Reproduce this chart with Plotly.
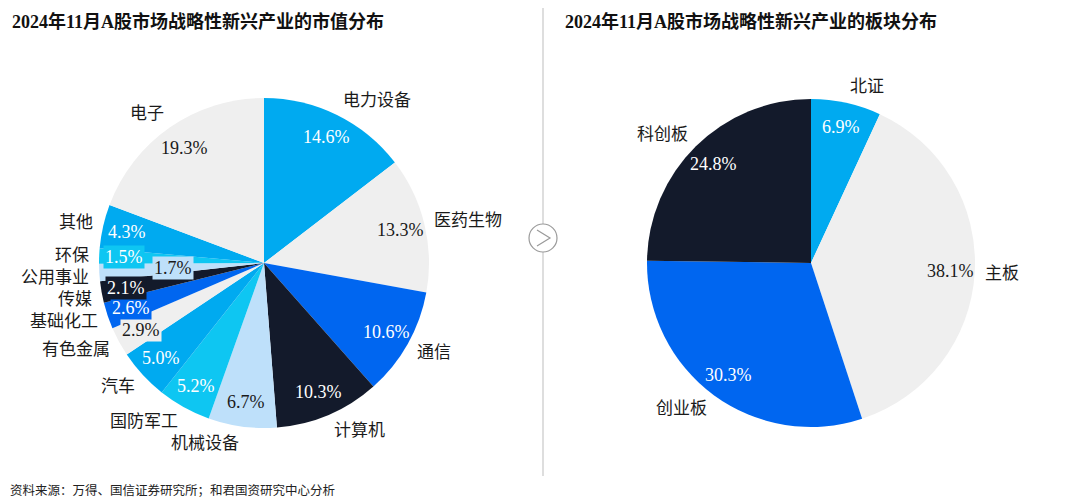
import math
import plotly.graph_objects as go

# ---------------- data ----------------
industries = ["电力设备", "医药生物", "通信", "计算机", "机械设备", "国防军工", "汽车",
              "有色金属", "基础化工", "传媒", "公用事业", "环保", "其他", "电子"]
industry_share = [14.6, 13.3, 10.6, 10.3, 6.7, 5.2, 5.0, 2.9, 2.6, 2.1, 1.7, 1.5, 4.3, 19.3]

boards = ["北证", "主板", "创业板", "科创板"]
board_share = [6.9, 38.1, 30.3, 24.8]

title_left = "2024年11月A股市场战略性新兴产业的市值分布"
title_right = "2024年11月A股市场战略性新兴产业的板块分布"
source_note = "资料来源：万得、国信证券研究所；和君国资研究中心分析"

# ---------------- style ----------------
W, H = 1080, 504
OFF = 8  # page body margin
PALETTE = ["#00AAF0", "#EFEFEF", "#0066F0", "#131A2B", "#BEE0FA", "#0EC6F2"]
DARK_ON = {"#EFEFEF", "#BEE0FA"}
TEXT_DARK = "#1A1A1A"
NUM_FONT = "Liberation Serif, Times New Roman, serif"
CJK_FONT = "Liberation Serif, Noto Sans CJK SC, serif"
INNER_LABELS = {"公用事业"}
SMALL_BOX = 3.0
LABEL_GAP_X = 8      # px between pie edge and category label (horizontal)
LABEL_R_Y = 1.10     # vertical radius factor for category labels
MIN_LABEL_SPACING = 22

LEFT = dict(cx=264, cy=263, r=165)
RIGHT = dict(cx=811, cy=263, r=164)

fig = go.Figure()
annotations = []


def px(x, y):
    return (x - OFF) / W, 1 - (y - OFF) / H


def add_pie(labels, values, geo, boxed):
    colors = [PALETTE[i % len(PALETTE)] for i in range(len(values))]
    cx, cy, r = geo["cx"], geo["cy"], geo["r"]
    x0, y0 = px(cx - r, cy + r)
    x1, y1 = px(cx + r, cy - r)
    fig.add_trace(go.Pie(
        labels=labels, values=values, sort=False, direction="clockwise", rotation=0,
        marker=dict(colors=colors, line=dict(width=0)),
        textinfo="none", hoverinfo="label+percent", showlegend=False,
        domain=dict(x=[x0, x1], y=[y0, y1]),
    ))
    total = sum(values)
    cum = 0.0
    cat = []
    for lab, v, col in zip(labels, values, colors):
        mid = (cum + v / 2) / total * 2 * math.pi
        cum += v
        s, c = math.sin(mid), math.cos(mid)
        # percent label
        fr = 0.55 if lab in INNER_LABELS else 0.85
        tx, ty = px(cx + fr * r * s, cy - fr * r * c)
        tcol = TEXT_DARK if col in DARK_ON else "white"
        ann = dict(x=tx, y=ty, xref="paper", yref="paper", showarrow=False,
                   text=f"{v:.1f}%", font=dict(family=NUM_FONT, size=18, color=tcol),
                   xanchor="center", yanchor="middle")
        if boxed and v < SMALL_BOX:
            ann.update(bgcolor=col, borderpad=1)
        annotations.append(ann)
        # category label anchor (pixel space)
        cat.append([lab, cx + s * (r + LABEL_GAP_X), cy - c * r * LABEL_R_Y, s > 0])

    # simple vertical de-overlap per side
    for side in (True, False):
        items = sorted([it for it in cat if it[3] == side], key=lambda it: it[2])
        for a, b in zip(items, items[1:]):
            if b[2] - a[2] < MIN_LABEL_SPACING:
                b[2] = a[2] + MIN_LABEL_SPACING

    for lab, lxp, lyp, right in cat:
        lx, ly = px(lxp, lyp)
        annotations.append(dict(
            x=lx, y=ly, xref="paper", yref="paper", showarrow=False, text=lab,
            font=dict(family=CJK_FONT, size=17, color=TEXT_DARK),
            xanchor="left" if right else "right", yanchor="middle"))


add_pie(industries, industry_share, LEFT, True)
add_pie(boards, board_share, RIGHT, False)

# titles and source
for txt, xpx in [(title_left, 10), (title_right, 563)]:
    ax, ay = px(xpx, 21)
    annotations.append(dict(x=ax, y=ay, xref="paper", yref="paper", showarrow=False,
                            text=f"<b>{txt}</b>", xanchor="left", yanchor="middle",
                            font=dict(family=CJK_FONT, size=18, color="#111111")))
sx, sy = px(8, 490)
annotations.append(dict(x=sx, y=sy, xref="paper", yref="paper", showarrow=False,
                        text=source_note, xanchor="left", yanchor="middle",
                        font=dict(family=CJK_FONT, size=12.5, color="#222222")))

# divider with arrow circle
lx0, ly_top = px(543, 8)
_, ly_c0 = px(543, 224)
_, ly_c1 = px(543, 252)
_, ly_bot = px(543, 476)
cx0, _ = px(529, 0)
cx1, _ = px(557, 0)
ax0, ay0 = px(537, 230)
ax1, ay1 = px(550, 238)
ax2, ay2 = px(537, 246)
shapes = [
    dict(type="line", xref="paper", yref="paper", x0=lx0, x1=lx0, y0=ly_top, y1=ly_c0,
         line=dict(color="#BDBDBD", width=1)),
    dict(type="line", xref="paper", yref="paper", x0=lx0, x1=lx0, y0=ly_c1, y1=ly_bot,
         line=dict(color="#BDBDBD", width=1)),
    dict(type="circle", xref="paper", yref="paper", x0=cx0, x1=cx1,
         y0=ly_c1, y1=ly_c0, line=dict(color="#9A9A9A", width=1.2),
         fillcolor="white"),
    dict(type="path", xref="paper", yref="paper",
         path=f"M {ax0},{ay0} L {ax1},{ay1} L {ax2},{ay2}",
         line=dict(color="#9A9A9A", width=1.2)),
]

fig.update_layout(
    width=W, height=H, margin=dict(l=0, r=0, t=0, b=0),
    paper_bgcolor="white", plot_bgcolor="white",
    annotations=annotations, shapes=shapes,
)

fig.write_html("out.html")
